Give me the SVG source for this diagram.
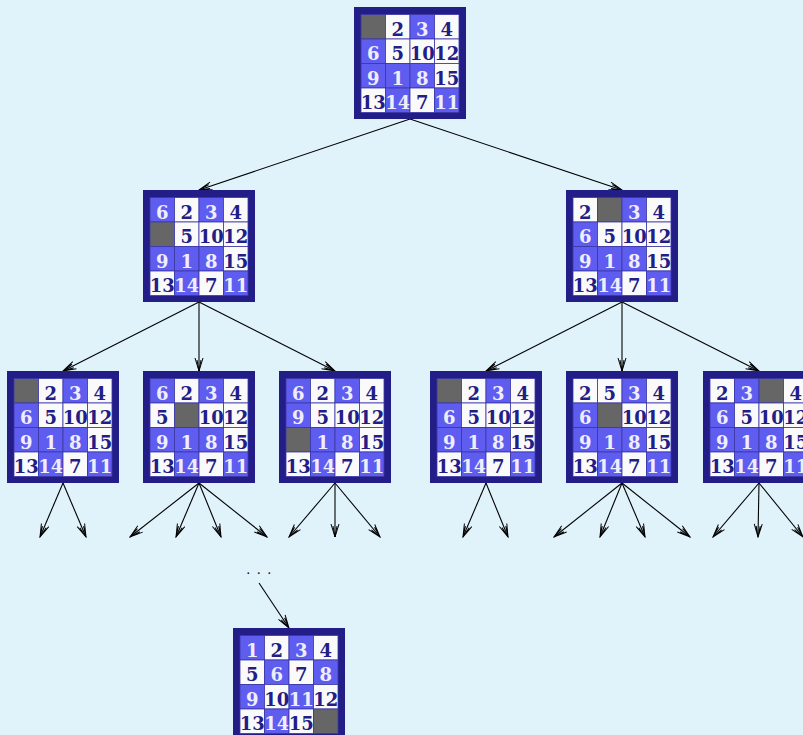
<svg xmlns="http://www.w3.org/2000/svg" width="803" height="735" viewBox="0 0 803 735">
<style>
.bg{fill:#e0f3fb}
.f{fill:#221d87}
.b{fill:#5f5cf0;stroke:#3b38a6;stroke-width:0.8}
.w{fill:#fafafa;stroke:#3b38a6;stroke-width:0.8}
.e{fill:#666666;stroke:#3b38a6;stroke-width:0.8}
text{font-family:"DejaVu Serif","Liberation Serif",serif;font-size:18px;text-anchor:middle;font-weight:bold}
.d{fill:#221d87}
.l{fill:#eeeeff}
.c line{stroke:#000;stroke-width:1.1;marker-end:url(#ah)}
.dots{font-family:"Liberation Serif",serif;font-size:14px;font-weight:normal;text-anchor:start;fill:#000;letter-spacing:7px}
</style>
<defs>
<marker id="ah" viewBox="-14 -5 15 10" refX="0" refY="0" markerWidth="15" markerHeight="10" markerUnits="userSpaceOnUse" orient="auto">
<path d="M-13,-4 L0,0 L-13,4 M-11,-2 L0,0 L-11,2" fill="none" stroke="#000" stroke-width="1"/>
</marker>
</defs>
<rect class="bg" x="0" y="0" width="803" height="735"/>

<g id="connectors" class="c">
<line x1="410" y1="119" x2="199" y2="190"/>
<line x1="410" y1="119" x2="622" y2="190"/>
<line x1="199" y1="302" x2="63" y2="371"/>
<line x1="199" y1="302" x2="199" y2="371"/>
<line x1="199" y1="302" x2="335" y2="371"/>
<line x1="622" y1="302" x2="486" y2="371"/>
<line x1="622" y1="302" x2="622" y2="371"/>
<line x1="622" y1="302" x2="759" y2="371"/>
<line x1="63" y1="483" x2="40" y2="537"/>
<line x1="63" y1="483" x2="86" y2="537"/>
<line x1="199" y1="483" x2="130" y2="537"/>
<line x1="199" y1="483" x2="176" y2="537"/>
<line x1="199" y1="483" x2="221" y2="537"/>
<line x1="199" y1="483" x2="267" y2="537"/>
<line x1="335" y1="483" x2="289" y2="537"/>
<line x1="335" y1="483" x2="335" y2="537"/>
<line x1="335" y1="483" x2="380" y2="537"/>
<line x1="486" y1="483" x2="463" y2="537"/>
<line x1="486" y1="483" x2="508" y2="537"/>
<line x1="622" y1="483" x2="554" y2="537"/>
<line x1="622" y1="483" x2="600" y2="537"/>
<line x1="622" y1="483" x2="645" y2="537"/>
<line x1="622" y1="483" x2="690" y2="537"/>
<line x1="759" y1="483" x2="713" y2="537"/>
<line x1="759" y1="483" x2="758" y2="537"/>
<line x1="759" y1="483" x2="803" y2="537"/>
<line x1="259" y1="583" x2="289" y2="628"/>
</g>

<g id="top" transform="translate(354,7)">
<rect class="f" x="0" y="0" width="112" height="112"/>
<rect class="e" x="7" y="7.5" width="24.5" height="24.5"/>
<rect class="w" x="31.5" y="7.5" width="24.5" height="24.5"/><text class="d" x="43.75" y="28.5">2</text>
<rect class="b" x="56" y="7.5" width="24.5" height="24.5"/><text class="l" x="68.25" y="28.5">3</text>
<rect class="w" x="80.5" y="7.5" width="24.5" height="24.5"/><text class="d" x="92.75" y="28.5">4</text>
<rect class="b" x="7" y="32" width="24.5" height="24.5"/><text class="l" x="19.25" y="53">6</text>
<rect class="w" x="31.5" y="32" width="24.5" height="24.5"/><text class="d" x="43.75" y="53">5</text>
<rect class="w" x="56" y="32" width="24.5" height="24.5"/><text class="d" x="68.25" y="53">10</text>
<rect class="w" x="80.5" y="32" width="24.5" height="24.5"/><text class="d" x="92.75" y="53">12</text>
<rect class="b" x="7" y="56.5" width="24.5" height="24.5"/><text class="l" x="19.25" y="77.5">9</text>
<rect class="b" x="31.5" y="56.5" width="24.5" height="24.5"/><text class="l" x="43.75" y="77.5">1</text>
<rect class="b" x="56" y="56.5" width="24.5" height="24.5"/><text class="l" x="68.25" y="77.5">8</text>
<rect class="w" x="80.5" y="56.5" width="24.5" height="24.5"/><text class="d" x="92.75" y="77.5">15</text>
<rect class="w" x="7" y="81" width="24.5" height="24.5"/><text class="d" x="19.25" y="102">13</text>
<rect class="b" x="31.5" y="81" width="24.5" height="24.5"/><text class="l" x="43.75" y="102">14</text>
<rect class="w" x="56" y="81" width="24.5" height="24.5"/><text class="d" x="68.25" y="102">7</text>
<rect class="b" x="80.5" y="81" width="24.5" height="24.5"/><text class="l" x="92.75" y="102">11</text>
</g>

<g id="l2a" transform="translate(143,190)">
<rect class="f" x="0" y="0" width="112" height="112"/>
<rect class="b" x="7" y="7.5" width="24.5" height="24.5"/><text class="l" x="19.25" y="28.5">6</text>
<rect class="w" x="31.5" y="7.5" width="24.5" height="24.5"/><text class="d" x="43.75" y="28.5">2</text>
<rect class="b" x="56" y="7.5" width="24.5" height="24.5"/><text class="l" x="68.25" y="28.5">3</text>
<rect class="w" x="80.5" y="7.5" width="24.5" height="24.5"/><text class="d" x="92.75" y="28.5">4</text>
<rect class="e" x="7" y="32" width="24.5" height="24.5"/>
<rect class="w" x="31.5" y="32" width="24.5" height="24.5"/><text class="d" x="43.75" y="53">5</text>
<rect class="w" x="56" y="32" width="24.5" height="24.5"/><text class="d" x="68.25" y="53">10</text>
<rect class="w" x="80.5" y="32" width="24.5" height="24.5"/><text class="d" x="92.75" y="53">12</text>
<rect class="b" x="7" y="56.5" width="24.5" height="24.5"/><text class="l" x="19.25" y="77.5">9</text>
<rect class="b" x="31.5" y="56.5" width="24.5" height="24.5"/><text class="l" x="43.75" y="77.5">1</text>
<rect class="b" x="56" y="56.5" width="24.5" height="24.5"/><text class="l" x="68.25" y="77.5">8</text>
<rect class="w" x="80.5" y="56.5" width="24.5" height="24.5"/><text class="d" x="92.75" y="77.5">15</text>
<rect class="w" x="7" y="81" width="24.5" height="24.5"/><text class="d" x="19.25" y="102">13</text>
<rect class="b" x="31.5" y="81" width="24.5" height="24.5"/><text class="l" x="43.75" y="102">14</text>
<rect class="w" x="56" y="81" width="24.5" height="24.5"/><text class="d" x="68.25" y="102">7</text>
<rect class="b" x="80.5" y="81" width="24.5" height="24.5"/><text class="l" x="92.75" y="102">11</text>
</g>

<g id="l2b" transform="translate(566,190)">
<rect class="f" x="0" y="0" width="112" height="112"/>
<rect class="w" x="7" y="7.5" width="24.5" height="24.5"/><text class="d" x="19.25" y="28.5">2</text>
<rect class="e" x="31.5" y="7.5" width="24.5" height="24.5"/>
<rect class="b" x="56" y="7.5" width="24.5" height="24.5"/><text class="l" x="68.25" y="28.5">3</text>
<rect class="w" x="80.5" y="7.5" width="24.5" height="24.5"/><text class="d" x="92.75" y="28.5">4</text>
<rect class="b" x="7" y="32" width="24.5" height="24.5"/><text class="l" x="19.25" y="53">6</text>
<rect class="w" x="31.5" y="32" width="24.5" height="24.5"/><text class="d" x="43.75" y="53">5</text>
<rect class="w" x="56" y="32" width="24.5" height="24.5"/><text class="d" x="68.25" y="53">10</text>
<rect class="w" x="80.5" y="32" width="24.5" height="24.5"/><text class="d" x="92.75" y="53">12</text>
<rect class="b" x="7" y="56.5" width="24.5" height="24.5"/><text class="l" x="19.25" y="77.5">9</text>
<rect class="b" x="31.5" y="56.5" width="24.5" height="24.5"/><text class="l" x="43.75" y="77.5">1</text>
<rect class="b" x="56" y="56.5" width="24.5" height="24.5"/><text class="l" x="68.25" y="77.5">8</text>
<rect class="w" x="80.5" y="56.5" width="24.5" height="24.5"/><text class="d" x="92.75" y="77.5">15</text>
<rect class="w" x="7" y="81" width="24.5" height="24.5"/><text class="d" x="19.25" y="102">13</text>
<rect class="b" x="31.5" y="81" width="24.5" height="24.5"/><text class="l" x="43.75" y="102">14</text>
<rect class="w" x="56" y="81" width="24.5" height="24.5"/><text class="d" x="68.25" y="102">7</text>
<rect class="b" x="80.5" y="81" width="24.5" height="24.5"/><text class="l" x="92.75" y="102">11</text>
</g>

<g id="l3a" transform="translate(7,371)">
<rect class="f" x="0" y="0" width="112" height="112"/>
<rect class="e" x="7" y="7.5" width="24.5" height="24.5"/>
<rect class="w" x="31.5" y="7.5" width="24.5" height="24.5"/><text class="d" x="43.75" y="28.5">2</text>
<rect class="b" x="56" y="7.5" width="24.5" height="24.5"/><text class="l" x="68.25" y="28.5">3</text>
<rect class="w" x="80.5" y="7.5" width="24.5" height="24.5"/><text class="d" x="92.75" y="28.5">4</text>
<rect class="b" x="7" y="32" width="24.5" height="24.5"/><text class="l" x="19.25" y="53">6</text>
<rect class="w" x="31.5" y="32" width="24.5" height="24.5"/><text class="d" x="43.75" y="53">5</text>
<rect class="w" x="56" y="32" width="24.5" height="24.5"/><text class="d" x="68.25" y="53">10</text>
<rect class="w" x="80.5" y="32" width="24.5" height="24.5"/><text class="d" x="92.75" y="53">12</text>
<rect class="b" x="7" y="56.5" width="24.5" height="24.5"/><text class="l" x="19.25" y="77.5">9</text>
<rect class="b" x="31.5" y="56.5" width="24.5" height="24.5"/><text class="l" x="43.75" y="77.5">1</text>
<rect class="b" x="56" y="56.5" width="24.5" height="24.5"/><text class="l" x="68.25" y="77.5">8</text>
<rect class="w" x="80.5" y="56.5" width="24.5" height="24.5"/><text class="d" x="92.75" y="77.5">15</text>
<rect class="w" x="7" y="81" width="24.5" height="24.5"/><text class="d" x="19.25" y="102">13</text>
<rect class="b" x="31.5" y="81" width="24.5" height="24.5"/><text class="l" x="43.75" y="102">14</text>
<rect class="w" x="56" y="81" width="24.5" height="24.5"/><text class="d" x="68.25" y="102">7</text>
<rect class="b" x="80.5" y="81" width="24.5" height="24.5"/><text class="l" x="92.75" y="102">11</text>
</g>

<g id="l3b" transform="translate(143,371)">
<rect class="f" x="0" y="0" width="112" height="112"/>
<rect class="b" x="7" y="7.5" width="24.5" height="24.5"/><text class="l" x="19.25" y="28.5">6</text>
<rect class="w" x="31.5" y="7.5" width="24.5" height="24.5"/><text class="d" x="43.75" y="28.5">2</text>
<rect class="b" x="56" y="7.5" width="24.5" height="24.5"/><text class="l" x="68.25" y="28.5">3</text>
<rect class="w" x="80.5" y="7.5" width="24.5" height="24.5"/><text class="d" x="92.75" y="28.5">4</text>
<rect class="w" x="7" y="32" width="24.5" height="24.5"/><text class="d" x="19.25" y="53">5</text>
<rect class="e" x="31.5" y="32" width="24.5" height="24.5"/>
<rect class="w" x="56" y="32" width="24.5" height="24.5"/><text class="d" x="68.25" y="53">10</text>
<rect class="w" x="80.5" y="32" width="24.5" height="24.5"/><text class="d" x="92.75" y="53">12</text>
<rect class="b" x="7" y="56.5" width="24.5" height="24.5"/><text class="l" x="19.25" y="77.5">9</text>
<rect class="b" x="31.5" y="56.5" width="24.5" height="24.5"/><text class="l" x="43.75" y="77.5">1</text>
<rect class="b" x="56" y="56.5" width="24.5" height="24.5"/><text class="l" x="68.25" y="77.5">8</text>
<rect class="w" x="80.5" y="56.5" width="24.5" height="24.5"/><text class="d" x="92.75" y="77.5">15</text>
<rect class="w" x="7" y="81" width="24.5" height="24.5"/><text class="d" x="19.25" y="102">13</text>
<rect class="b" x="31.5" y="81" width="24.5" height="24.5"/><text class="l" x="43.75" y="102">14</text>
<rect class="w" x="56" y="81" width="24.5" height="24.5"/><text class="d" x="68.25" y="102">7</text>
<rect class="b" x="80.5" y="81" width="24.5" height="24.5"/><text class="l" x="92.75" y="102">11</text>
</g>

<g id="l3c" transform="translate(279,371)">
<rect class="f" x="0" y="0" width="112" height="112"/>
<rect class="b" x="7" y="7.5" width="24.5" height="24.5"/><text class="l" x="19.25" y="28.5">6</text>
<rect class="w" x="31.5" y="7.5" width="24.5" height="24.5"/><text class="d" x="43.75" y="28.5">2</text>
<rect class="b" x="56" y="7.5" width="24.5" height="24.5"/><text class="l" x="68.25" y="28.5">3</text>
<rect class="w" x="80.5" y="7.5" width="24.5" height="24.5"/><text class="d" x="92.75" y="28.5">4</text>
<rect class="b" x="7" y="32" width="24.5" height="24.5"/><text class="l" x="19.25" y="53">9</text>
<rect class="w" x="31.5" y="32" width="24.5" height="24.5"/><text class="d" x="43.75" y="53">5</text>
<rect class="w" x="56" y="32" width="24.5" height="24.5"/><text class="d" x="68.25" y="53">10</text>
<rect class="w" x="80.5" y="32" width="24.5" height="24.5"/><text class="d" x="92.75" y="53">12</text>
<rect class="e" x="7" y="56.5" width="24.5" height="24.5"/>
<rect class="b" x="31.5" y="56.5" width="24.5" height="24.5"/><text class="l" x="43.75" y="77.5">1</text>
<rect class="b" x="56" y="56.5" width="24.5" height="24.5"/><text class="l" x="68.25" y="77.5">8</text>
<rect class="w" x="80.5" y="56.5" width="24.5" height="24.5"/><text class="d" x="92.75" y="77.5">15</text>
<rect class="w" x="7" y="81" width="24.5" height="24.5"/><text class="d" x="19.25" y="102">13</text>
<rect class="b" x="31.5" y="81" width="24.5" height="24.5"/><text class="l" x="43.75" y="102">14</text>
<rect class="w" x="56" y="81" width="24.5" height="24.5"/><text class="d" x="68.25" y="102">7</text>
<rect class="b" x="80.5" y="81" width="24.5" height="24.5"/><text class="l" x="92.75" y="102">11</text>
</g>

<g id="l3d" transform="translate(430,371)">
<rect class="f" x="0" y="0" width="112" height="112"/>
<rect class="e" x="7" y="7.5" width="24.5" height="24.5"/>
<rect class="w" x="31.5" y="7.5" width="24.5" height="24.5"/><text class="d" x="43.75" y="28.5">2</text>
<rect class="b" x="56" y="7.5" width="24.5" height="24.5"/><text class="l" x="68.25" y="28.5">3</text>
<rect class="w" x="80.5" y="7.5" width="24.5" height="24.5"/><text class="d" x="92.75" y="28.5">4</text>
<rect class="b" x="7" y="32" width="24.5" height="24.5"/><text class="l" x="19.25" y="53">6</text>
<rect class="w" x="31.5" y="32" width="24.5" height="24.5"/><text class="d" x="43.75" y="53">5</text>
<rect class="w" x="56" y="32" width="24.5" height="24.5"/><text class="d" x="68.25" y="53">10</text>
<rect class="w" x="80.5" y="32" width="24.5" height="24.5"/><text class="d" x="92.75" y="53">12</text>
<rect class="b" x="7" y="56.5" width="24.5" height="24.5"/><text class="l" x="19.25" y="77.5">9</text>
<rect class="b" x="31.5" y="56.5" width="24.5" height="24.5"/><text class="l" x="43.75" y="77.5">1</text>
<rect class="b" x="56" y="56.5" width="24.5" height="24.5"/><text class="l" x="68.25" y="77.5">8</text>
<rect class="w" x="80.5" y="56.5" width="24.5" height="24.5"/><text class="d" x="92.75" y="77.5">15</text>
<rect class="w" x="7" y="81" width="24.5" height="24.5"/><text class="d" x="19.25" y="102">13</text>
<rect class="b" x="31.5" y="81" width="24.5" height="24.5"/><text class="l" x="43.75" y="102">14</text>
<rect class="w" x="56" y="81" width="24.5" height="24.5"/><text class="d" x="68.25" y="102">7</text>
<rect class="b" x="80.5" y="81" width="24.5" height="24.5"/><text class="l" x="92.75" y="102">11</text>
</g>

<g id="l3e" transform="translate(566,371)">
<rect class="f" x="0" y="0" width="112" height="112"/>
<rect class="w" x="7" y="7.5" width="24.5" height="24.5"/><text class="d" x="19.25" y="28.5">2</text>
<rect class="w" x="31.5" y="7.5" width="24.5" height="24.5"/><text class="d" x="43.75" y="28.5">5</text>
<rect class="b" x="56" y="7.5" width="24.5" height="24.5"/><text class="l" x="68.25" y="28.5">3</text>
<rect class="w" x="80.5" y="7.5" width="24.5" height="24.5"/><text class="d" x="92.75" y="28.5">4</text>
<rect class="b" x="7" y="32" width="24.5" height="24.5"/><text class="l" x="19.25" y="53">6</text>
<rect class="e" x="31.5" y="32" width="24.5" height="24.5"/>
<rect class="w" x="56" y="32" width="24.5" height="24.5"/><text class="d" x="68.25" y="53">10</text>
<rect class="w" x="80.5" y="32" width="24.5" height="24.5"/><text class="d" x="92.75" y="53">12</text>
<rect class="b" x="7" y="56.5" width="24.5" height="24.5"/><text class="l" x="19.25" y="77.5">9</text>
<rect class="b" x="31.5" y="56.5" width="24.5" height="24.5"/><text class="l" x="43.75" y="77.5">1</text>
<rect class="b" x="56" y="56.5" width="24.5" height="24.5"/><text class="l" x="68.25" y="77.5">8</text>
<rect class="w" x="80.5" y="56.5" width="24.5" height="24.5"/><text class="d" x="92.75" y="77.5">15</text>
<rect class="w" x="7" y="81" width="24.5" height="24.5"/><text class="d" x="19.25" y="102">13</text>
<rect class="b" x="31.5" y="81" width="24.5" height="24.5"/><text class="l" x="43.75" y="102">14</text>
<rect class="w" x="56" y="81" width="24.5" height="24.5"/><text class="d" x="68.25" y="102">7</text>
<rect class="b" x="80.5" y="81" width="24.5" height="24.5"/><text class="l" x="92.75" y="102">11</text>
</g>

<g id="l3f" transform="translate(703,371)">
<rect class="f" x="0" y="0" width="112" height="112"/>
<rect class="w" x="7" y="7.5" width="24.5" height="24.5"/><text class="d" x="19.25" y="28.5">2</text>
<rect class="b" x="31.5" y="7.5" width="24.5" height="24.5"/><text class="l" x="43.75" y="28.5">3</text>
<rect class="e" x="56" y="7.5" width="24.5" height="24.5"/>
<rect class="w" x="80.5" y="7.5" width="24.5" height="24.5"/><text class="d" x="92.75" y="28.5">4</text>
<rect class="b" x="7" y="32" width="24.5" height="24.5"/><text class="l" x="19.25" y="53">6</text>
<rect class="w" x="31.5" y="32" width="24.5" height="24.5"/><text class="d" x="43.75" y="53">5</text>
<rect class="w" x="56" y="32" width="24.5" height="24.5"/><text class="d" x="68.25" y="53">10</text>
<rect class="w" x="80.5" y="32" width="24.5" height="24.5"/><text class="d" x="92.75" y="53">12</text>
<rect class="b" x="7" y="56.5" width="24.5" height="24.5"/><text class="l" x="19.25" y="77.5">9</text>
<rect class="b" x="31.5" y="56.5" width="24.5" height="24.5"/><text class="l" x="43.75" y="77.5">1</text>
<rect class="b" x="56" y="56.5" width="24.5" height="24.5"/><text class="l" x="68.25" y="77.5">8</text>
<rect class="w" x="80.5" y="56.5" width="24.5" height="24.5"/><text class="d" x="92.75" y="77.5">15</text>
<rect class="w" x="7" y="81" width="24.5" height="24.5"/><text class="d" x="19.25" y="102">13</text>
<rect class="b" x="31.5" y="81" width="24.5" height="24.5"/><text class="l" x="43.75" y="102">14</text>
<rect class="w" x="56" y="81" width="24.5" height="24.5"/><text class="d" x="68.25" y="102">7</text>
<rect class="b" x="80.5" y="81" width="24.5" height="24.5"/><text class="l" x="92.75" y="102">11</text>
</g>

<g id="dots"><text class="dots" x="246.5" y="574">...</text></g>

<g id="goal" transform="translate(233,628)">
<rect class="f" x="0" y="0" width="112" height="112"/>
<rect class="b" x="7" y="7.5" width="24.5" height="24.5"/><text class="l" x="19.25" y="28.5">1</text>
<rect class="w" x="31.5" y="7.5" width="24.5" height="24.5"/><text class="d" x="43.75" y="28.5">2</text>
<rect class="b" x="56" y="7.5" width="24.5" height="24.5"/><text class="l" x="68.25" y="28.5">3</text>
<rect class="w" x="80.5" y="7.5" width="24.5" height="24.5"/><text class="d" x="92.75" y="28.5">4</text>
<rect class="w" x="7" y="32" width="24.5" height="24.5"/><text class="d" x="19.25" y="53">5</text>
<rect class="b" x="31.5" y="32" width="24.5" height="24.5"/><text class="l" x="43.75" y="53">6</text>
<rect class="w" x="56" y="32" width="24.5" height="24.5"/><text class="d" x="68.25" y="53">7</text>
<rect class="b" x="80.5" y="32" width="24.5" height="24.5"/><text class="l" x="92.75" y="53">8</text>
<rect class="b" x="7" y="56.5" width="24.5" height="24.5"/><text class="l" x="19.25" y="77.5">9</text>
<rect class="w" x="31.5" y="56.5" width="24.5" height="24.5"/><text class="d" x="43.75" y="77.5">10</text>
<rect class="b" x="56" y="56.5" width="24.5" height="24.5"/><text class="l" x="68.25" y="77.5">11</text>
<rect class="w" x="80.5" y="56.5" width="24.5" height="24.5"/><text class="d" x="92.75" y="77.5">12</text>
<rect class="w" x="7" y="81" width="24.5" height="24.5"/><text class="d" x="19.25" y="102">13</text>
<rect class="b" x="31.5" y="81" width="24.5" height="24.5"/><text class="l" x="43.75" y="102">14</text>
<rect class="w" x="56" y="81" width="24.5" height="24.5"/><text class="d" x="68.25" y="102">15</text>
<rect class="e" x="80.5" y="81" width="24.5" height="24.5"/>
</g>
</svg>
